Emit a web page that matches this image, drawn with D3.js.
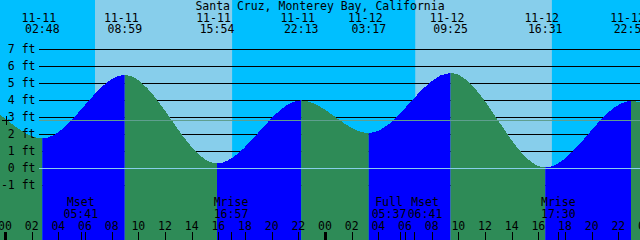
<!DOCTYPE html>
<html>
<head>
<meta charset="utf-8">
<script src="https://cdn.jsdelivr.net/npm/d3@7"></script>
<style>
  body { margin: 0; background: #fff; }
  svg { display: block; }
  text { font-family: "DejaVu Sans Mono", monospace; font-size: 11.5px; fill: #000; }
</style>
</head>
<body>
<div id="chart"></div>
<script>
// tide highs / lows (first two and last two are off the chart, they only shape the edges)
var tideTimes = ["11-10 15:05", "11-10 21:20", "11-11 02:48", "11-11 08:59", "11-11 15:54", "11-11 22:13",
                 "11-12 03:17", "11-12 09:25", "11-12 16:31", "11-12 22:57", "11-13 04:00", "11-13 10:00"];
var tideHeights = [0.5, 4.0, 1.76, 5.49, 0.29, 4.0, 2.06, 5.62, 0.05, 3.96, 2.3, 5.6];

var sunriseTimes = ["11-11 06:45", "11-12 06:46"];
var sunsetTimes = ["11-11 17:02", "11-12 17:01"];

var moonNames = ["Mset", "Mrise", "Full", "Mset", "Mrise"];
var moonTimes = ["11-11 05:41", "11-11 16:57", "11-12 05:37", "11-12 06:41", "11-12 17:30"];

var feetTicks = [-1, 0, 1, 2, 3, 4, 5, 6, 7];
var meanLevel = 2.82;
var title = "Santa Cruz, Monterey Bay, California";

var width = 640, height = 240;
var parse = d3.utcParse("%m-%d %H:%M");
var fmtDate = d3.utcFormat("%m-%d"), fmtTime = d3.utcFormat("%H:%M"), fmtHour = d3.utcFormat("%H");

var start = parse("11-11 00:00");
var t0 = new Date(+start - 22.5 * 60000), t1 = new Date(+t0 + 48 * 3600000);

var x = d3.scaleUtc().domain([t0, t1]).range([0, width]);
var y = d3.scaleLinear().domain([-1, 7]).range([185.3, 49.3]);

var tides = tideTimes.map(function(t, i) { return {t: parse(t), h: tideHeights[i]}; });

var svg = d3.select("#chart").append("svg")
    .attr("width", width)
    .attr("height", height);

// sky: night then day bands
svg.append("rect").attr("width", width).attr("height", height).attr("fill", "#00BFFF");
svg.selectAll(".day")
    .data(sunriseTimes)
  .enter().append("rect")
    .attr("class", "day")
    .attr("x", function(d) { return x(parse(d)); })
    .attr("width", function(d, i) { return x(parse(sunsetTimes[i])) - x(parse(d)); })
    .attr("y", 0).attr("height", height)
    .attr("fill", "#87CEEB");

// foot grid lines (behind water)
svg.selectAll(".grid")
    .data(feetTicks)
  .enter().append("line")
    .attr("x1", 39).attr("x2", width)
    .attr("y1", function(d) { return Math.round(y(d)) + 0.5; })
    .attr("y2", function(d) { return Math.round(y(d)) + 0.5; })
    .attr("stroke", "#000");

// water, blue while rising, green while falling
var area = d3.area()
    .x(function(d) { return x(d.t); })
    .y0(height)
    .y1(function(d) { return y(d.h); })
    .curve(d3.curveMonotoneX);

var defs = svg.append("defs");
for (var i = 0; i < tides.length - 1; i++) {
  var a = x(tides[i].t), b = x(tides[i + 1].t);
  defs.append("clipPath").attr("id", "seg" + i)
    .append("rect").attr("x", a).attr("width", b - a).attr("y", 0).attr("height", height);
  svg.append("path")
      .datum(tides)
      .attr("clip-path", "url(#seg" + i + ")")
      .attr("d", area)
      .attr("shape-rendering", "crispEdges")
      .attr("fill", tides[i + 1].h > tides[i].h ? "#0000FF" : "#2E8B57");
}

// datum and mean level lines over the water
svg.append("line")
    .attr("x1", 39).attr("x2", width)
    .attr("y1", Math.round(y(0)) + 0.5).attr("y2", Math.round(y(0)) + 0.5)
    .attr("stroke", "#87CEEB");
svg.append("line")
    .attr("x1", 39).attr("x2", width)
    .attr("y1", Math.round(y(meanLevel)) + 0.5).attr("y2", Math.round(y(meanLevel)) + 0.5)
    .attr("stroke", "#5f9f8f");
var my = Math.round(y(meanLevel)) + 0.5;
svg.append("path")
    .attr("d", "M2," + my + "H11M6.5," + (my - 4.5) + "V" + (my + 4.5))
    .attr("stroke", "#000");

// foot labels
svg.selectAll(".ylab")
    .data(feetTicks)
  .enter().append("text")
    .attr("x", 35.5)
    .attr("y", function(d) { return y(d) + 4; })
    .attr("text-anchor", "end")
    .text(function(d) { return d + " ft"; });

// title and tide event labels
svg.append("text").attr("x", 320).attr("y", 9.5).attr("text-anchor", "middle").text(title);

var shown = tides.filter(function(d) { return d.t >= t0 && d.t <= t1; });
svg.selectAll(".tdate")
    .data(shown)
  .enter().append("text")
    .attr("x", function(d) { return x(d.t) - 3.5; })
    .attr("y", 21.7)
    .attr("text-anchor", "middle")
    .text(function(d) { return fmtDate(d.t); });
svg.selectAll(".ttime")
    .data(shown)
  .enter().append("text")
    .attr("x", function(d) { return x(d.t); })
    .attr("y", 33.3)
    .attr("text-anchor", "middle")
    .text(function(d) { return fmtTime(d.t); });

// moon events, pushed apart where they collide
var moon = moonTimes.map(function(t, i) { return {t: parse(t), name: moonNames[i], px: x(parse(t))}; });
var lw = 36;
for (var j = 1; j < moon.length; j++) {
  if (moon[j].px - moon[j - 1].px < lw) {
    var mid = (moon[j].px + moon[j - 1].px) / 2;
    moon[j - 1].px = mid - lw / 2;
    moon[j].px = mid + lw / 2;
  }
}
svg.selectAll(".mname")
    .data(moon)
  .enter().append("text")
    .attr("x", function(d) { return d.px; })
    .attr("y", 206)
    .attr("text-anchor", "middle")
    .text(function(d) { return d.name; });
svg.selectAll(".mtime")
    .data(moon)
  .enter().append("text")
    .attr("x", function(d) { return d.px; })
    .attr("y", 218.3)
    .attr("text-anchor", "middle")
    .text(function(d) { return fmtTime(d.t); });

// hour axis
var hours = d3.utcHour.every(2).range(t0, new Date(+t1 + 3600000));
svg.selectAll(".hlab")
    .data(hours)
  .enter().append("text")
    .attr("x", function(d) { return x(d); })
    .attr("y", 230)
    .attr("text-anchor", "middle")
    .text(function(d) { return fmtHour(d); });
svg.selectAll(".htick")
    .data(hours.concat(moon.map(function(d) { return d.t; })))
  .enter().append("rect")
    .attr("x", function(d) { return d.getUTCHours() === 0 && d.getUTCMinutes() === 0 ? Math.round(x(d)) - 1 : Math.round(x(d)); })
    .attr("width", function(d) { return d.getUTCHours() === 0 && d.getUTCMinutes() === 0 ? 3 : 1; })
    .attr("y", 232)
    .attr("height", 8)
    .attr("fill", "#000");
</script>
</body>
</html>
